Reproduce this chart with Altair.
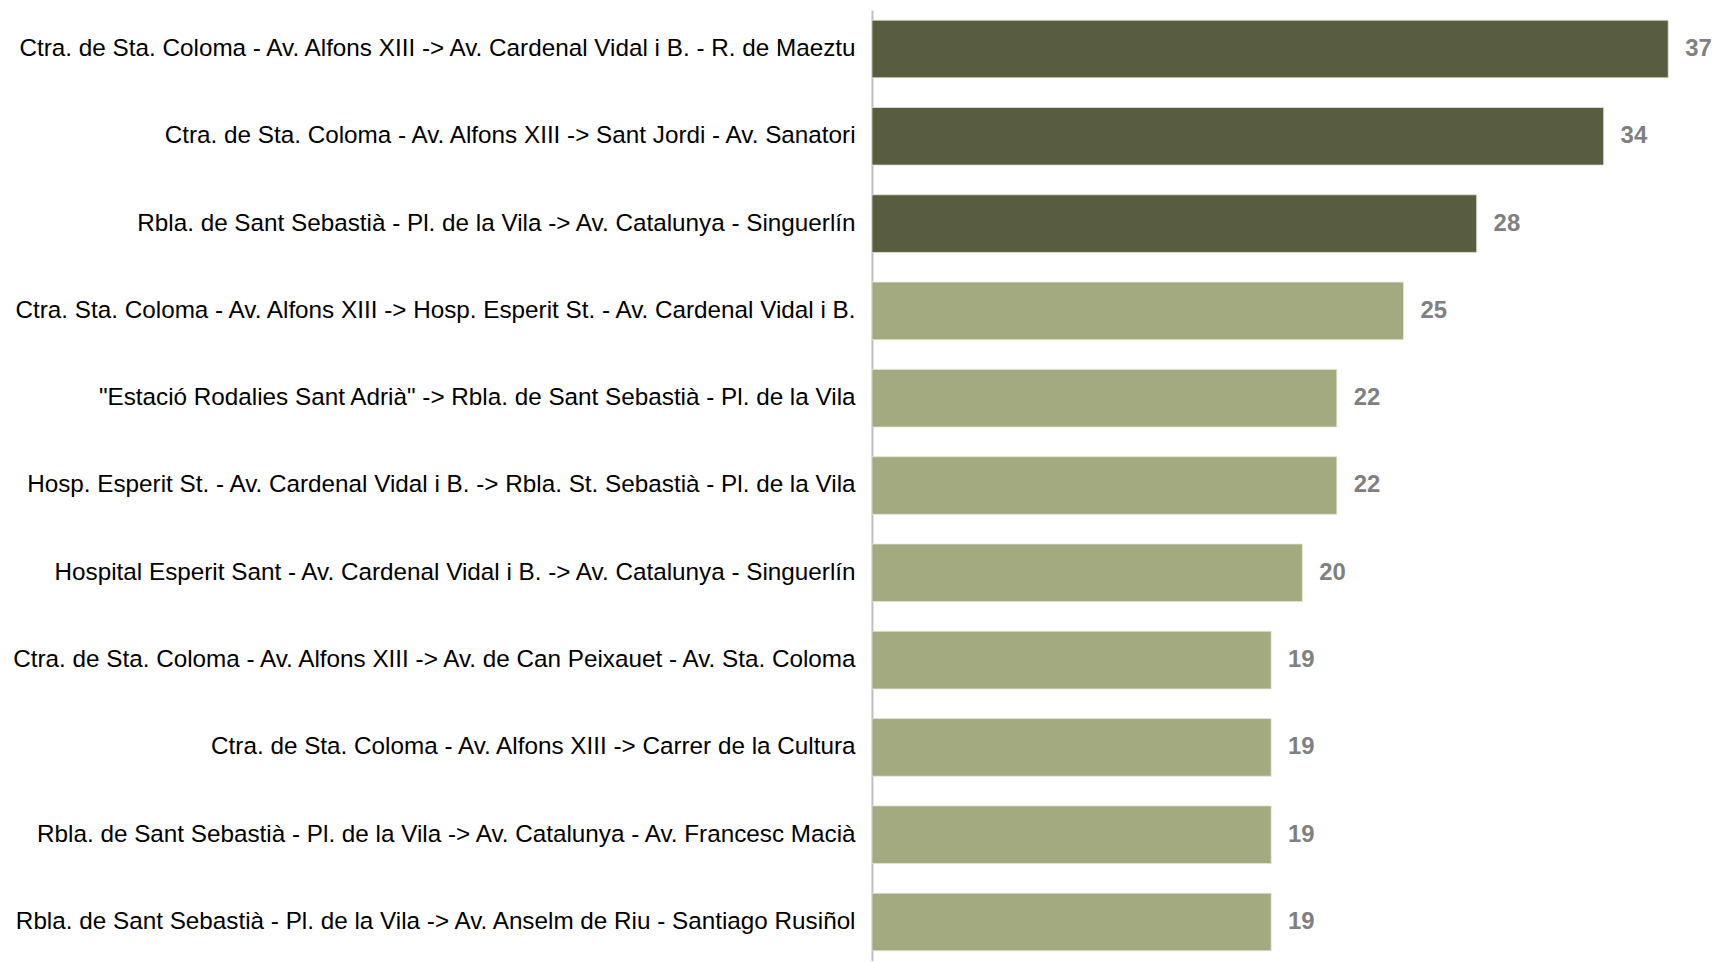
import altair as alt
import pandas as pd

routes = [
    "Ctra. de Sta. Coloma - Av. Alfons XIII -> Av. Cardenal Vidal i B. - R. de Maeztu",
    "Ctra. de Sta. Coloma - Av. Alfons XIII -> Sant Jordi - Av. Sanatori",
    "Rbla. de Sant Sebastià - Pl. de la Vila -> Av. Catalunya - Singuerlín",
    "Ctra. Sta. Coloma - Av. Alfons XIII -> Hosp. Esperit St. - Av. Cardenal Vidal i B.",
    "\"Estació Rodalies Sant Adrià\" -> Rbla. de Sant Sebastià - Pl. de la Vila",
    "Hosp. Esperit St. - Av. Cardenal Vidal i B. -> Rbla. St. Sebastià - Pl. de la Vila",
    "Hospital Esperit Sant - Av. Cardenal Vidal i B. -> Av. Catalunya - Singuerlín",
    "Ctra. de Sta. Coloma - Av. Alfons XIII -> Av. de Can Peixauet - Av. Sta. Coloma",
    "Ctra. de Sta. Coloma - Av. Alfons XIII -> Carrer de la Cultura",
    "Rbla. de Sant Sebastià - Pl. de la Vila -> Av. Catalunya - Av. Francesc Macià",
    "Rbla. de Sant Sebastià - Pl. de la Vila -> Av. Anselm de Riu - Santiago Rusiñol",
]
values = [37.0, 34.0, 28.1, 24.7, 21.6, 21.6, 20.0, 18.55, 18.55, 18.55, 18.55]

df = pd.DataFrame({"route": routes, "value": values})

base = alt.Chart(df).encode(
    y=alt.Y(
        "route:N",
        sort=routes,
        title=None,
        scale=alt.Scale(paddingInner=0.34, paddingOuter=0.114),
        axis=alt.Axis(
            labelFont="Liberation Sans",
            labelFontSize=24.4,
            labelColor="#000000",
            labelPadding=17,
            labelLimit=2000,
            ticks=False,
            domainColor="#BFBFBF",
            domainWidth=2,
            grid=False,
        ),
    ),
    x=alt.X(
        "value:Q",
        scale=alt.Scale(domain=[0, 37.6], nice=False, zero=True),
        axis=None,
    ),
)

bars = base.mark_bar(stroke="#E4E6DA", strokeWidth=0.8).encode(
    color=alt.condition(
        alt.datum.value >= 28,
        alt.value("#585D3F"),
        alt.value("#A4AA7F"),
    )
)

labels = base.mark_text(
    align="left",
    baseline="middle",
    dx=17,
    font="Liberation Sans",
    fontSize=24,
    fontWeight="bold",
    color="#808080",
).encode(text=alt.Text("value:Q", format=".0f"))

chart = (
    (bars + labels)
    .properties(
        width=813,
        height=955,
        background="white",
        autosize=alt.AutoSizeParams(type="none"),
        padding={"left": 868, "top": 0, "right": 33, "bottom": 0},
    )
    .configure_view(strokeWidth=0, stroke="transparent")
)

chart.save("out.html", embed_options={"renderer": "svg", "actions": False})
